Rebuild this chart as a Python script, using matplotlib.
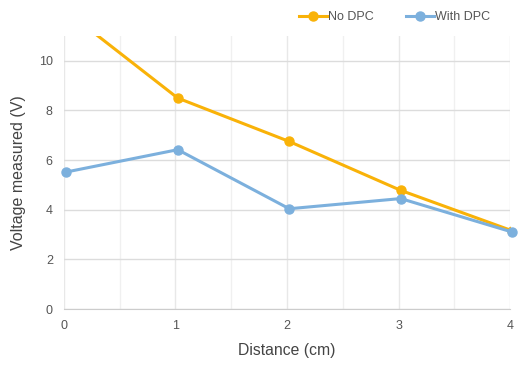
import matplotlib.pyplot as plt
from matplotlib.ticker import MultipleLocator

plt.rcParams['font.family'] = ['Liberation Sans', 'DejaVu Sans']

# data
distance = [0.02, 1.02, 2.02, 3.02, 4.02]
no_dpc = [12.0, 8.5, 6.75, 4.78, 3.15]
with_dpc = [5.52, 6.42, 4.04, 4.45, 3.1]

yellow = '#F9B208'
blue = '#7CB0DD'
text_col = '#555555'

fig = plt.figure(figsize=(5.31, 3.69), dpi=100)
ax = fig.add_axes([0.1205, 0.1626, 0.84, 0.7398])

ax.plot(distance, no_dpc, color=yellow, lw=2.2, marker='o', ms=6.5,
        label='No DPC', clip_on=True)
ax.plot(distance, with_dpc, color=blue, lw=2.2, marker='o', ms=6.5,
        label='With DPC', clip_on=False)

ax.set_xlim(0, 4)
ax.set_ylim(0, 11)
ax.xaxis.set_major_locator(MultipleLocator(1))
ax.xaxis.set_minor_locator(MultipleLocator(0.5))
ax.yaxis.set_major_locator(MultipleLocator(2))

ax.grid(axis='y', which='major', color='#dcdcdc', lw=1.0)
ax.grid(axis='x', which='major', color='#e8e8e8', lw=1.0)
ax.grid(axis='x', which='minor', color='#f0f0f0', lw=1.0)
ax.set_axisbelow(True)

for s in ['top', 'right', 'left']:
    ax.spines[s].set_visible(False)
ax.spines['bottom'].set_color('#cccccc')

ax.tick_params(which='both', length=0, labelsize=9, colors=text_col, pad=8)
ax.set_xlabel('Distance (cm)', fontsize=11.3, color='#444444', labelpad=8)
ax.set_ylabel('Voltage measured (V)', fontsize=11.5, color='#444444', labelpad=9)

fig.legend(loc='upper right', bbox_to_anchor=(0.944, 1.0), ncol=2, frameon=False,
           fontsize=9, handlelength=2.2, handletextpad=0.1, columnspacing=2.6,
           labelcolor=text_col)

fig.savefig('out.png', dpi=100)
